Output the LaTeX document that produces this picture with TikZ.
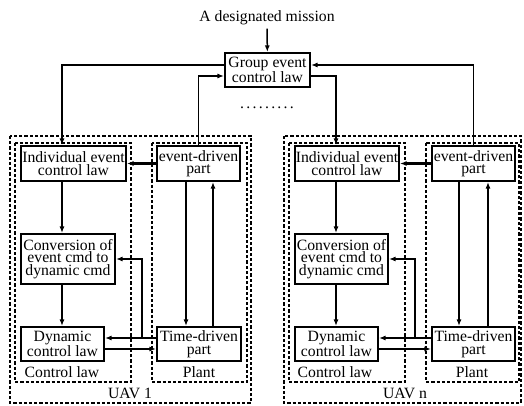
\documentclass[tikz,border=0pt]{standalone}
\usepackage{fontspec}
\setmainfont{Liberation Serif}
\usetikzlibrary{arrows.meta}
\begin{document}
\begin{tikzpicture}[x=1pt,y=-1pt,font=\fontsize{15.7}{13}\selectfont,
  blk/.style={draw,line width=2.1pt,inner sep=0.5pt,align=center,minimum height=34pt},
  drv/.style={font=\fontsize{15.7}{12.5}\selectfont},
  cnv/.style={font=\fontsize{15.7}{12.5}\selectfont},
  zone/.style={draw,line width=1.8pt,dash pattern=on 3.2pt off 2pt},
  ar/.style={-{Latex[length=6.5pt,width=5pt]},line width=1.5pt},
  thk/.style={line width=2.7pt}]
\useasboundingbox (0,0) rectangle (524,406);

%group level
\node (mission) at (267,18) {A designated mission};
\node[blk,minimum width=85pt] (grp) at (267.5,70) {Group event\\control law};
\node (dots) at (267,108) {.\kern2.3pt.\kern2.3pt.\kern2.3pt.\kern2.3pt.\kern2.3pt.\kern2.3pt.\kern2.3pt.\kern2.3pt.};
\draw[ar] (mission) -- (grp);

%UAV 1
\draw[zone] (10,136) rectangle (251,403);
\draw[zone] (15,143) rectangle (131,382);
\draw[zone] (152,143) rectangle (247,382);
\node[blk,minimum width=105pt,minimum height=35pt] (ind1) at (73.5,163.5) {Individual event\\control law};
\node[blk,drv,minimum width=83pt,minimum height=35pt] (evt1) at (198.5,163.5) {event-driven\\part};
\node[blk,cnv,minimum width=94pt,minimum height=50pt] (conv1) at (68,259) {Conversion of\\event cmd to\\dynamic cmd};
\node[blk,minimum width=83pt] (dyn1) at (62.5,344) {Dynamic\\control law};
\node[blk,drv,minimum width=84pt] (time1) at (199,344) {Time-driven\\part};
\node (ctl1) at (62,372) {Control law};
\node (plt1) at (199,372) {Plant};
\node (uav1) at (130,393) {UAV 1};
\coordinate (c1) at (62,0);
\coordinate (d1) at (186,0);
\coordinate (u1) at (213,0);
\coordinate (j1) at (142,338);
\draw[ar] ([yshift=5pt]grp.west) -| (ind1.north -| c1);
\draw[ar] (evt1.north) |- ([yshift=-6pt]grp.west);
\draw[ar,thk] (evt1.west) -- (ind1.east);
\draw[ar] (ind1.south -| c1) -- (conv1.north -| c1);
\draw[ar] (conv1.south -| c1) -- (dyn1.north -| c1);
\draw[ar,thk] (evt1.south -| d1) -- (time1.north -| d1);
\draw[ar] (time1.north -| u1) -- (evt1.south -| u1);
\draw[ar,thk] ([yshift=6pt]time1.west) -- ([yshift=6pt]time1.west -| dyn1.east);
\draw[ar] (j1) |- (conv1.east);
\draw[ar] ([yshift=-5pt]dyn1.east) -- ([yshift=-5pt]dyn1.east -| time1.west);

%UAV n
\draw[zone] (284,136) rectangle (521,403);
\draw[zone] (289,143) rectangle (405,382);
\draw[zone] (426,143) rectangle (519,382);
\node[blk,minimum width=104pt,minimum height=35pt] (ind2) at (347,163.5) {Individual event\\control law};
\node[blk,drv,minimum width=83pt,minimum height=35pt] (evt2) at (473.5,163.5) {event-driven\\part};
\node[blk,cnv,minimum width=93pt,minimum height=50pt] (conv2) at (341.5,259) {Conversion of\\event cmd to\\dynamic cmd};
\node[blk,minimum width=83pt] (dyn2) at (336.5,344) {Dynamic\\control law};
\node[blk,drv,minimum width=83pt] (time2) at (473.5,344) {Time-driven\\part};
\node (ctl2) at (335,372) {Control law};
\node (plt2) at (472,372) {Plant};
\node (uav2) at (405,393) {UAV n};
\coordinate (c2) at (336,0);
\coordinate (d2) at (459,0);
\coordinate (u2) at (488,0);
\coordinate (j2) at (415,338);
\draw[ar] ([yshift=-6pt]grp.east) -| (ind2.north -| c2);
\draw[ar] (evt2.north) |- ([yshift=5pt]grp.east);
\draw[ar,thk] (evt2.west) -- (ind2.east);
\draw[ar] (ind2.south -| c2) -- (conv2.north -| c2);
\draw[ar] (conv2.south -| c2) -- (dyn2.north -| c2);
\draw[ar] (evt2.south -| d2) -- (time2.north -| d2);
\draw[ar] (time2.north -| u2) -- (evt2.south -| u2);
\draw[ar,thk] ([yshift=6pt]time2.west) -- ([yshift=6pt]time2.west -| dyn2.east);
\draw[ar,thk] (j2) |- (conv2.east);
\draw[ar] ([yshift=-5pt]dyn2.east) -- ([yshift=-5pt]dyn2.east -| time2.west);

\end{tikzpicture}
\end{document}
